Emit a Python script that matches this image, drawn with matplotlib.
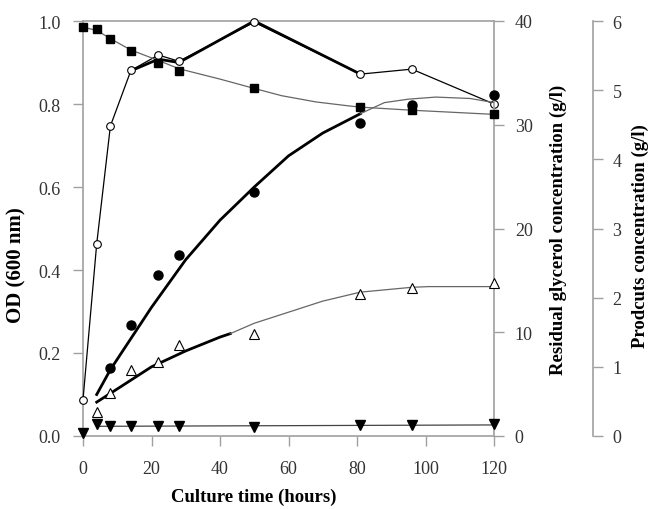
import matplotlib
matplotlib.use("Agg")
import matplotlib.pyplot as plt

plt.rcParams["font.family"] = ["Liberation Serif", "DejaVu Serif"]

# sampling times (h)
time = [0, 4, 8, 14, 22, 28, 50, 81, 96, 120]

# OD (600 nm), open circles
od = [0.087, 0.463, 0.747, 0.881, 0.918, 0.903, 0.997, 0.872, 0.884, 0.800]
od_trend_t = [14, 22, 28, 50, 81]
od_trend = [0.880, 0.908, 0.900, 1.0, 0.872]

# residual glycerol (g/l), filled squares
glycerol = [39.4, 39.2, 38.3, 37.1, 36.0, 35.2, 33.5, 31.7, 31.4, 31.0]
gly_trend_t = [0, 4, 8, 14, 22, 28, 40, 50, 58, 68, 78, 81]
gly_trend = [39.4, 39.1, 38.3, 37.2, 36.2, 35.4, 34.4, 33.5, 32.8, 32.2, 31.8, 31.7]

# products (g/l)
prod_a_t = [8, 14, 22, 28, 50, 81, 96, 120]
prod_a = [0.98, 1.60, 2.33, 2.62, 3.53, 4.52, 4.78, 4.93]
prod_a_fit_t = [4, 8, 14, 20, 30, 40, 50, 60, 70, 81]
prod_a_fit = [0.60, 0.96, 1.41, 1.86, 2.55, 3.12, 3.60, 4.05, 4.38, 4.66]
prod_a_tail_t = [81, 88, 95, 103, 113, 120]
prod_a_tail = [4.66, 4.82, 4.87, 4.90, 4.88, 4.82]

prod_b_t = [4, 8, 14, 22, 28, 50, 81, 96, 120]
prod_b = [0.34, 0.62, 0.96, 1.07, 1.31, 1.48, 2.06, 2.14, 2.21]
prod_b_fit_t = [4, 10, 20, 30, 40, 43]
prod_b_fit = [0.49, 0.68, 1.00, 1.23, 1.43, 1.48]
prod_b_tail_t = [43, 50, 60, 70, 81, 96, 101, 120]
prod_b_tail = [1.48, 1.63, 1.79, 1.95, 2.08, 2.15, 2.16, 2.16]

prod_c = [0.04, 0.17, 0.15, 0.15, 0.15, 0.15, 0.13, 0.16, 0.16, 0.17]
prod_c_fit_t = [4, 120]
prod_c_fit = [0.14, 0.16]

spine_col = "#a0a0a0"
tick_col = "#333333"

fig = plt.figure(figsize=(6.49, 5.10), dpi=100)
ax = fig.add_axes([83 / 649, 73 / 510, 411 / 649, 415 / 510])
ax2 = ax.twinx()
ax3 = ax.twinx()
ax3.spines["right"].set_position(("axes", 510 / 411))

# OD
ax.plot(time, od, color="black", lw=0.9, marker="o", ms=5.5, mfc="white",
        mec="black", mew=0.8, clip_on=False, zorder=3)
ax.plot(od_trend_t, od_trend, color="black", lw=2.0, zorder=2)

# glycerol
ax2.plot(gly_trend_t, gly_trend, color="#666666", lw=0.9)
ax2.plot(time[7:], glycerol[7:], color="#666666", lw=0.9)
ax2.plot(time, glycerol, ls="none", marker="s", ms=6, color="black",
         clip_on=False, zorder=3)

# products
ax3.plot(prod_a_fit_t, prod_a_fit, color="black", lw=2.0)
ax3.plot(prod_a_tail_t, prod_a_tail, color="#666666", lw=0.9)
ax3.plot(prod_a_t, prod_a, ls="none", marker="o", ms=6.5, color="black",
         clip_on=False, zorder=3)
ax3.plot(prod_b_fit_t, prod_b_fit, color="black", lw=2.0)
ax3.plot(prod_b_tail_t, prod_b_tail, color="#666666", lw=0.9)
ax3.plot(prod_b_t, prod_b, ls="none", marker="^", ms=7, mfc="white",
         mec="black", mew=0.8, clip_on=False, zorder=3)
ax3.plot(prod_c_fit_t, prod_c_fit, color="#444444", lw=0.9)
ax3.plot(time, prod_c, ls="none", marker="v", ms=7, color="black",
         clip_on=False, zorder=3)

ax.set_xlim(0, 120)
ax.set_ylim(0, 1.0)
ax2.set_ylim(0, 40)
ax3.set_ylim(0, 6)
ax.set_xticks(range(0, 121, 20))
ax.set_yticks([0, 0.2, 0.4, 0.6, 0.8, 1.0])
ax.set_yticklabels(["0.0", "0.2", "0.4", "0.6", "0.8", "1.0"])
ax2.set_yticks(range(0, 41, 10))
ax3.set_yticks(range(0, 7))

for a in (ax, ax2, ax3):
    for s in a.spines.values():
        s.set_color(spine_col)
        s.set_linewidth(1.2)
    a.tick_params(direction="out", length=7, width=1.0, color=spine_col,
                  labelcolor=tick_col, labelsize=13)
ax.spines["right"].set_visible(False)
ax2.spines["left"].set_visible(False)
ax2.spines["top"].set_visible(False)
ax2.spines["bottom"].set_visible(False)
for side in ("left", "top", "bottom"):
    ax3.spines[side].set_visible(False)
ax.tick_params(axis="y", pad=9)
ax.tick_params(axis="x", pad=10)
ax2.tick_params(axis="y", pad=8)
ax3.tick_params(axis="y", pad=7)

fig.text(16 / 649, 1 - 265 / 510, "OD (600 nm)", rotation=90, ha="center",
         va="center", fontsize=15, fontweight="bold")
fig.text(558 / 649, 1 - 230 / 510, "Residual glycerol concentration (g/l)",
         rotation=90, ha="center", va="center", fontsize=13.5, fontweight="bold")
fig.text(640 / 649, 1 - 236 / 510, "Prodcuts concentration (g/l)",
         rotation=90, ha="center", va="center", fontsize=13.5, fontweight="bold")
fig.text(254 / 649, 1 - 497 / 510, "Culture time (hours)", ha="center",
         va="center", fontsize=13.5, fontweight="bold")

fig.savefig("out.png", dpi=100)
